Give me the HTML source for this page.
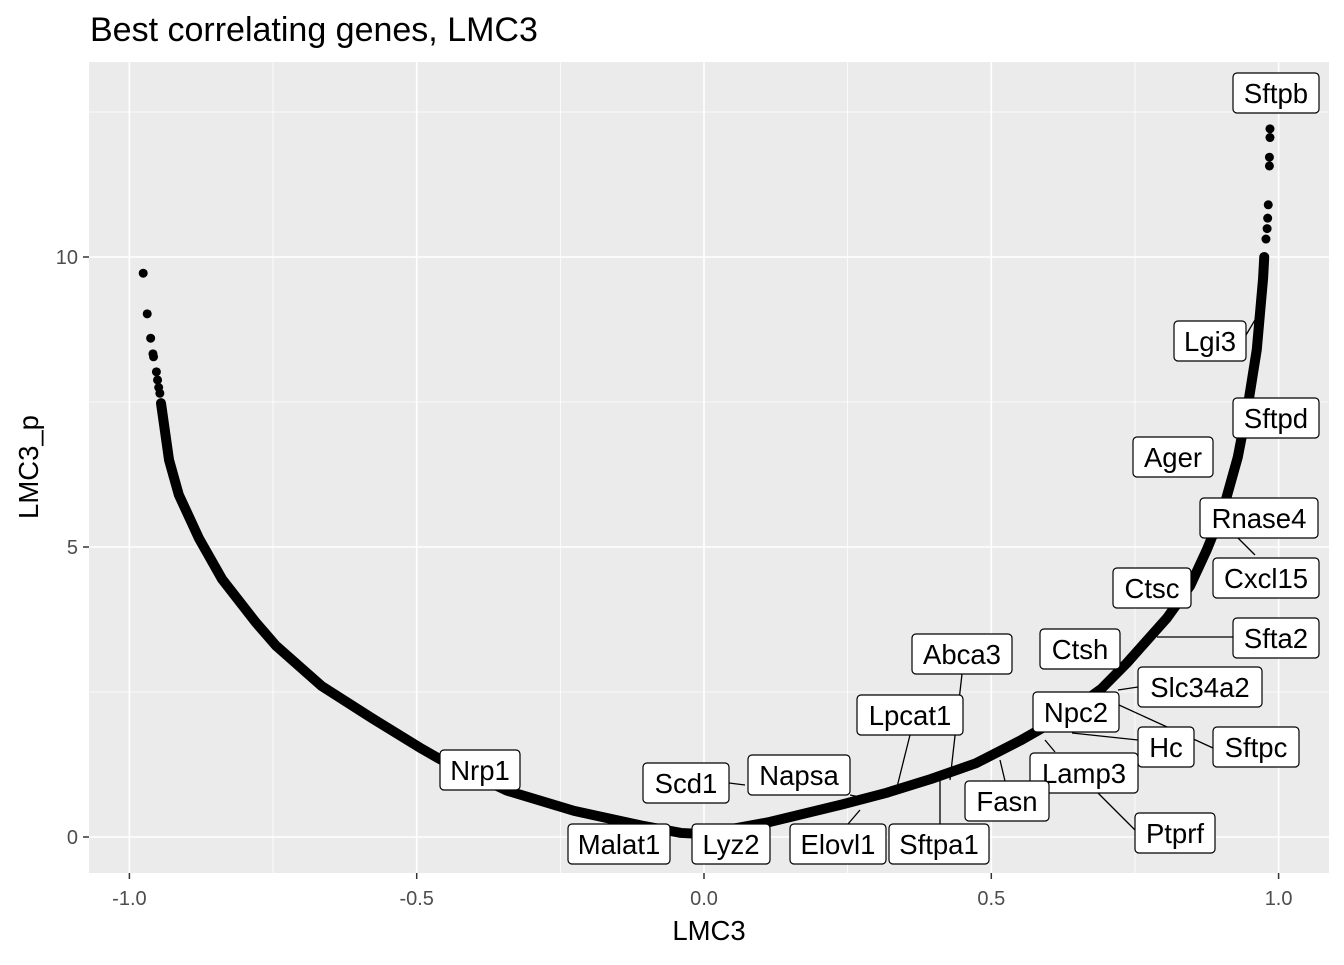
<!DOCTYPE html>
<html><head><meta charset="utf-8"><style>
body{margin:0;background:#fff;font-family:"Liberation Sans",Arial,sans-serif}
</style></head><body>
<svg id="chart" width="1344" height="960" xmlns="http://www.w3.org/2000/svg" font-family="Liberation Sans, Arial, sans-serif">
<text x="90" y="41" font-size="34" fill="#000">Best correlating genes, LMC3</text>
<rect x="89" y="62" width="1240" height="811" fill="#ebebeb"/>
<g id="grid"></g>
<g id="marks"></g>
<g id="labels"></g>
<g id="axes"></g>
<text x="709" y="940" font-size="27.5" text-anchor="middle">LMC3</text>
<text transform="translate(38,467) rotate(-90)" font-size="27.5" text-anchor="middle">LMC3_p</text>
</svg>
<script>
const xTicks=[-1.0,-0.5,0.0,0.5,1.0];
const xTickLabels=["-1.0","-0.5","0.0","0.5","1.0"];
const xMinor=[-0.75,-0.25,0.25,0.75];
const yTicks=[0,5,10];
const yTickLabels=["0","5","10"];
const yMinor=[2.5,7.5,12.5];
const curveR=[-0.945,-0.931,-0.914,-0.879,-0.839,-0.78,-0.745,-0.665,-0.578,-0.491,-0.461,-0.343,-0.226,-0.11,-0.04,0.0,0.115,0.24,0.317,0.395,0.473,0.55,0.628,0.691,0.736,0.806,0.846,0.875,0.903,0.929,0.947,0.962,0.973,0.975];
const curveP=[7.48,6.5,5.9,5.15,4.45,3.7,3.3,2.6,2.05,1.52,1.35,0.8,0.45,0.2,0.07,0.05,0.26,0.56,0.76,1.0,1.27,1.66,2.1,2.55,3.0,3.78,4.33,4.95,5.63,6.55,7.47,8.4,9.63,10.0];
const outR=[-0.976,-0.969,-0.963,-0.959,-0.958,-0.953,-0.951,-0.949,-0.947,0.985,0.985,0.984,0.984,0.982,0.981,0.980,0.978];
const outP=[9.72,9.02,8.6,8.33,8.28,8.02,7.88,7.75,7.65,12.21,12.06,11.72,11.57,10.9,10.67,10.49,10.31];
const NS="http://www.w3.org/2000/svg";
const X=v=>704+v*574.6, Y=v=>837-v*58;
function mk(t,a,p){const e=document.createElementNS(NS,t);for(const k in a)e.setAttribute(k,a[k]);document.getElementById(p).appendChild(e);return e;}
xMinor.forEach(v=>{const l=mk('line',{x1:X(v),x2:X(v),y1:62,y2:873,stroke:'#fff','stroke-width':0.8},'grid');});
yMinor.forEach(v=>{const l=mk('line',{x1:89,x2:1329,y1:Y(v),y2:Y(v),stroke:'#fff','stroke-width':0.8},'grid');});
xTicks.forEach((v,i)=>{const l=mk('line',{x1:X(v),x2:X(v),y1:62,y2:873,stroke:'#fff','stroke-width':1.6},'grid');
 const t=mk('line',{x1:X(v),x2:X(v),y1:873,y2:879,stroke:'#333','stroke-width':1.5},'axes');
 const s=mk('text',{x:X(v),y:905,'font-size':20,fill:'#4d4d4d','text-anchor':'middle'},'axes');s.textContent=xTickLabels[i];});
yTicks.forEach((v,i)=>{const l=mk('line',{x1:89,x2:1329,y1:Y(v),y2:Y(v),stroke:'#fff','stroke-width':1.6},'grid');
 const t=mk('line',{x1:83,x2:89,y1:Y(v),y2:Y(v),stroke:'#333','stroke-width':1.5},'axes');
 const s=mk('text',{x:78,y:Y(v)+7,'font-size':20,fill:'#4d4d4d','text-anchor':'end'},'axes');s.textContent=yTickLabels[i];});
const pl=mk('polyline',{points:curveR.map((r,i)=>X(r)+','+Y(curveP[i])).join(' '),fill:'none',stroke:'#000','stroke-width':10,'stroke-linejoin':'round','stroke-linecap':'round'},'marks');

outR.forEach((r,i)=>{const c=mk('circle',{cx:X(r),cy:Y(outP[i]),r:4.5,fill:'#000'},'marks');});
const segs=[[1246,335,1255,320],[1238,538,1255,555],[1157,637,1233,637],[1138,687,1118,690],[1119,705,1213,748],[1072,733,1138,740],[1045,740,1055,752],[1098,793,1135,830],[962,674,950,780],[910,735,895,795],[940,780,940,824],[1000,760,1005,781],[729,783,745,785],[850,795,875,800],[848,824,860,810]];
segs.forEach(s=>{const l=mk('line',{x1:s[0],y1:s[1],x2:s[2],y2:s[3],stroke:'#000','stroke-width':1.3},'labels');});
const labs=[["Sftpb",1233,73,86],["Lgi3",1174,321,72],["Sftpd",1233,398,86],["Ager",1133,437,80],["Rnase4",1200,498,118],["Cxcl15",1213,558,106],["Ctsc",1113,568,78],["Sfta2",1233,618,86],["Ctsh",1040,629,80],["Abca3",912,634,100],["Slc34a2",1138,667,124],["Npc2",1033,692,86],["Lpcat1",857,695,106],["Hc",1138,727,56],["Sftpc",1213,727,86],["Lamp3",1030,753,108],["Nrp1",440,750,80],["Scd1",643,763,86],["Napsa",748,755,102],["Fasn",965,781,84],["Ptprf",1135,813,80],["Malat1",568,824,102],["Lyz2",692,824,78],["Elovl1",790,824,96],["Sftpa1",889,824,100]];
labs.forEach(d=>{const g=mk('g',{},'labels');
 const r=document.createElementNS(NS,'rect');[['x',d[1]],['y',d[2]],['width',d[3]],['height',40],['rx',4],['fill','#fff'],['stroke','#000'],['stroke-width',1.2]].forEach(a=>r.setAttribute(a[0],a[1]));g.appendChild(r);
 const t=document.createElementNS(NS,'text');t.setAttribute('x',d[1]+d[3]/2);t.setAttribute('y',d[2]+30);t.setAttribute('font-size',27.5);t.setAttribute('text-anchor','middle');t.textContent=d[0];g.appendChild(t);});
</script>
</body></html>
